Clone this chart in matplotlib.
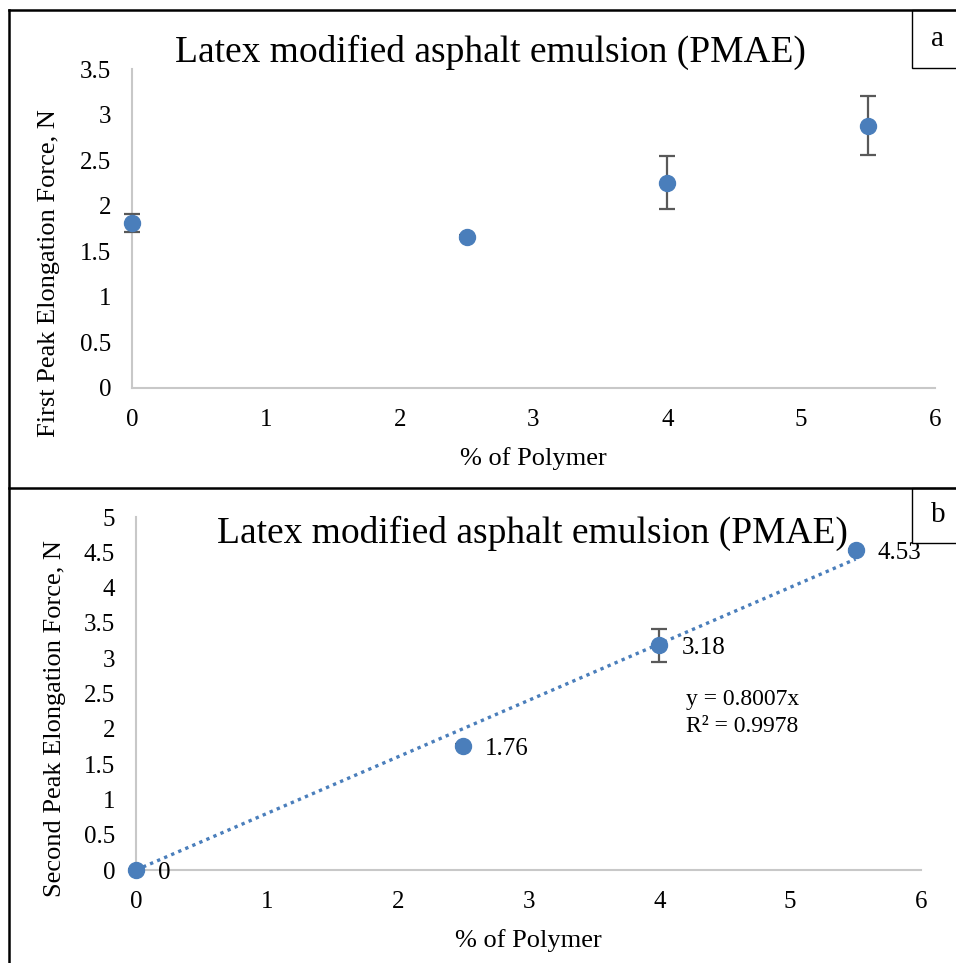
import numpy as np
import matplotlib
matplotlib.use("Agg")
import matplotlib.pyplot as plt
from matplotlib.lines import Line2D
from matplotlib.patches import Rectangle

plt.rcParams["font.family"] = ["Liberation Serif", "DejaVu Serif"]

# data
polymer = [0, 2.5, 4, 5.5]
first_peak = [1.81, 1.66, 2.25, 2.88]
first_err = [0.10, 0.02, 0.29, 0.32]
second_peak = [0, 1.76, 3.18, 4.53]
second_err = [0.02, 0.02, 0.24, 0.02]
slope = 0.8007
r2 = 0.9978
title = "Latex modified asphalt emulsion (PMAE)"

blue = "#4a7ebb"
grey_axis = "#c8c8c8"
err_col = "#595959"

W, H = 956, 963
fig = plt.figure(figsize=(W / 100, H / 100), dpi=100)


def px(x0, y0, x1, y1):
    # pixel box -> figure fraction [left, bottom, width, height]
    return [x0 / W, 1 - y1 / H, (x1 - x0) / W, (y1 - y0) / H]


def style(ax):
    for s in ["top", "right"]:
        ax.spines[s].set_visible(False)
    for s in ["left", "bottom"]:
        ax.spines[s].set_color(grey_axis)
        ax.spines[s].set_linewidth(1.5)
    ax.tick_params(length=0, labelsize=18)
    ax.tick_params(axis="x", pad=15)
    ax.tick_params(axis="y", pad=15)
    ax.set_xlim(0, 6)
    ax.set_xticks(range(0, 7))
    ax.set_xticklabels([str(i) for i in range(0, 7)])
    ax.set_xlabel("% of Polymer", fontsize=19, labelpad=12)


def fmt(v):
    return ("%g" % v)


# panel a
ax1 = fig.add_axes(px(132, 69, 935, 388))
style(ax1)
ax1.errorbar(polymer, first_peak, yerr=first_err, fmt="o", color=blue, ms=11.5,
             ecolor=err_col, elinewidth=1.6, capsize=6, capthick=1.6, zorder=3,
             clip_on=False)
ax1.set_ylim(0, 3.5)
yt = np.arange(0, 3.51, 0.5)
ax1.set_yticks(yt)
ax1.set_yticklabels([fmt(v) for v in yt])
ax1.set_ylabel("First Peak Elongation Force, N", fontsize=19)
ax1.yaxis.set_label_coords(-0.090, 0.36)
fig.text(490 / W, 1 - 52 / H, title, fontsize=27, ha="center", va="center")

# panel b
ax2 = fig.add_axes(px(136, 517, 921, 870))
style(ax2)
xs = np.array([0, polymer[-1]])
ax2.plot(xs, slope * xs, color=blue, lw=2.4, linestyle=(0, (1.0, 1.3)),
         dash_capstyle="butt", zorder=2)
ax2.errorbar(polymer, second_peak, yerr=second_err, fmt="o", color=blue, ms=11.5,
             ecolor=err_col, elinewidth=1.6, capsize=6, capthick=1.6, zorder=3,
             clip_on=False)
for xv, yv in zip(polymer, second_peak):
    ax2.annotate(fmt(yv), (xv, yv), xytext=(16, -2), textcoords="offset points",
                 fontsize=18, ha="left", va="center")
ax2.set_ylim(0, 5)
yt2 = np.arange(0, 5.01, 0.5)
ax2.set_yticks(yt2)
ax2.set_yticklabels([fmt(v) for v in yt2])
ax2.set_ylabel("Second Peak Elongation Force, N", fontsize=19)
ax2.yaxis.set_label_coords(-0.089, 0.43)
ax2.text(4.2, 2.22, "y = %.4fx\nR² = %.4f" % (slope, r2), fontsize=17,
         ha="left", va="center", linespacing=1.4)
fig.text(532 / W, 1 - 533 / H, title, fontsize=27, ha="center", va="center")

# panel frames
lw_frame = 1.8
fig.add_artist(Line2D([9 / W, 9 / W], [1 - 10 / H, 0], color="black", lw=lw_frame))
fig.add_artist(Line2D([9 / W, 1], [1 - 10 / H, 1 - 10 / H], color="black", lw=lw_frame))
fig.add_artist(Line2D([9 / W, 1], [1 - 488 / H, 1 - 488 / H], color="black", lw=lw_frame))

# corner label boxes
for y0, y1, lab in [(10, 68, "a"), (488, 543, "b")]:
    fig.add_artist(Rectangle((912 / W, 1 - y1 / H), 60 / W, (y1 - y0) / H,
                             transform=fig.transFigure, fill=True, facecolor="white",
                             edgecolor="black", lw=1.0))
    fig.text(938 / W, 1 - (y0 + y1) / 2 / H, lab, fontsize=21, ha="center", va="center")

fig.savefig("out.png", dpi=100)
